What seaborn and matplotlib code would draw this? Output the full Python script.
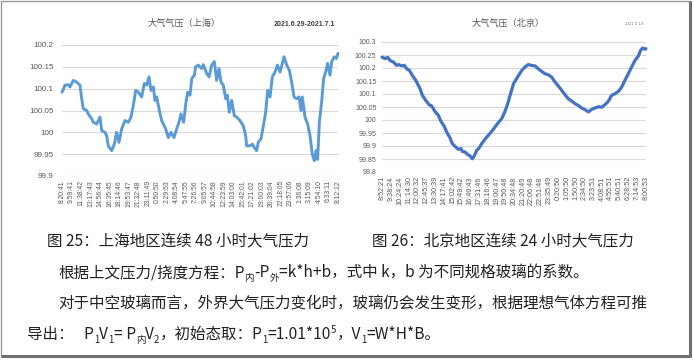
import matplotlib
matplotlib.use("Agg")
import matplotlib.pyplot as plt
import seaborn as sns
from matplotlib.lines import Line2D
from matplotlib.transforms import IdentityTransform

# ---- data ----
# Shanghai, 48 h (x = position in tick-label steps)
sh_labels = ["8:20:41", "9:59:41", "11:38:42", "13:17:43", "14:56:44", "16:35:45",
             "18:14:46", "19:53:47", "21:32:48", "23:11:49", "0:50:50", "2:29:53",
             "4:08:54", "5:47:55", "7:26:56", "9:05:57", "10:44:58", "12:23:59",
             "14:03:00", "15:42:01", "17:21:02", "19:00:03", "20:39:04", "22:18:05",
             "23:57:06", "1:36:08", "3:15:09", "4:54:10", "6:33:11", "8:12:12"]
sh_pos = [0.0, 0.32, 0.67, 0.84, 1.19, 1.54, 1.89, 2.07, 2.24, 2.59,
          2.77, 3.12, 3.29, 3.64, 3.99, 4.17, 4.52, 4.69, 4.87, 5.22,
          5.50, 5.74, 5.99, 6.27, 6.62, 6.97, 7.25, 7.50, 7.74, 8.02,
          8.37, 8.65, 8.90, 9.14, 9.35, 9.60, 9.77, 9.95, 10.19, 10.47,
          10.65, 10.89, 11.17, 11.45, 11.77, 12.05, 12.29, 12.50, 12.78, 13.03,
          13.20, 13.45, 13.63, 13.91, 14.04, 14.32, 14.68, 14.85, 15.20, 15.45,
          15.73, 16.01, 16.25, 16.50, 16.71, 16.95, 17.20, 17.37, 17.58, 17.83,
          18.11, 18.35, 18.70, 19.05, 19.30, 19.40, 19.75, 20.00, 20.21, 20.45,
          20.63, 20.91, 21.16, 21.40, 21.61, 21.86, 22.10, 22.38, 22.63, 22.91,
          23.15, 23.33, 23.61, 23.89, 24.13, 24.38, 24.66, 24.90, 25.11, 25.25,
          25.53, 25.81, 26.06, 26.30, 26.51, 26.69, 26.86, 27.04, 27.28, 27.49,
          27.70, 27.91, 28.16, 28.34, 28.62, 28.83, 29.0]
sh_vals = [100.092, 100.108, 100.109, 100.104, 100.119, 100.115, 100.108, 100.077, 100.054, 100.050,
           100.042, 100.031, 100.023, 100.019, 100.035, 100.004, 100.000, 99.992, 99.969, 99.958,
           99.973, 100.000, 99.977, 100.008, 100.027, 100.023, 100.035, 100.062, 100.096, 100.092,
           100.081, 100.112, 100.108, 100.127, 100.096, 100.104, 100.073, 100.081, 100.054, 100.027,
           100.019, 100.008, 99.988, 100.000, 99.988, 100.008, 100.023, 100.042, 100.023, 100.069,
           100.092, 100.085, 100.123, 100.131, 100.150, 100.154, 100.146, 100.155, 100.135, 100.127,
           100.154, 100.162, 100.119, 100.146, 100.115, 100.108, 100.077, 100.085, 100.046, 100.073,
           100.038, 100.035, 100.027, 100.015, 99.992, 99.969, 99.969, 99.973, 99.965, 99.958,
           99.978, 99.985, 100.015, 100.046, 100.096, 100.081, 100.127, 100.138, 100.154, 100.138,
           100.158, 100.173, 100.154, 100.142, 100.115, 100.081, 100.077, 100.081, 100.050, 100.081,
           100.035, 100.019, 99.992, 99.950, 99.935, 99.958, 99.938, 100.023, 100.069, 100.123,
           100.138, 100.158, 100.131, 100.162, 100.173, 100.169, 100.181]
sh_yticks = [99.9, 99.95, 100, 100.05, 100.1, 100.15, 100.2]
sh_ylabels = ["99.9", "99.95", "100", "100.05", "100.1", "100.15", "100.2"]

# Beijing, 24 h
bj_labels = ["8:52:21", "9:38:24", "10:24:24", "11:14:30", "12:00:32", "12:45:37",
             "13:30:39", "14:17:41", "15:02:42", "15:49:42", "16:40:43", "17:31:46",
             "18:16:46", "19:00:47", "19:50:48", "20:34:48", "21:20:49", "22:06:48",
             "22:51:48", "23:35:49", "0:20:50", "1:05:50", "1:50:50", "2:34:50",
             "3:23:51", "4:08:51", "4:55:51", "5:40:51", "6:28:52", "7:14:53", "8:00:53"]
bj_pos = [0.0, 0.34, 0.64, 0.91, 1.29, 1.67, 1.93, 2.24, 2.54, 2.80,
          3.11, 3.45, 3.83, 4.13, 4.32, 4.58, 4.96, 5.34, 5.64, 6.02,
          6.40, 6.70, 7.05, 7.35, 7.73, 7.99, 8.30, 8.67, 8.98, 9.13,
          9.43, 9.74, 10.0, 10.26, 10.49, 10.76, 11.02, 11.33, 11.70, 12.08,
          12.46, 12.84, 13.22, 13.60, 14.0, 14.3, 14.6, 14.95, 15.4, 15.87,
          16.25, 16.63, 17.01, 17.39, 17.76, 18.14, 18.52, 18.90, 19.28, 19.66,
          20.04, 20.42, 20.80, 21.17, 21.55, 21.93, 22.31, 22.69, 23.07, 23.45,
          23.83, 24.20, 24.58, 24.96, 25.34, 25.72, 26.10, 26.48, 26.86, 27.24,
          27.61, 27.99, 28.37, 28.75, 29.13, 29.39, 29.62, 29.89, 30.0]
bj_vals = [100.242, 100.236, 100.241, 100.229, 100.223, 100.210, 100.213, 100.208, 100.210, 100.197,
           100.191, 100.172, 100.153, 100.133, 100.121, 100.095, 100.076, 100.059, 100.054, 100.033,
           100.018, 99.995, 99.977, 99.954, 99.931, 99.909, 99.899, 99.887, 99.890, 99.879,
           99.877, 99.867, 99.862, 99.851, 99.862, 99.883, 99.892, 99.909, 99.926, 99.941,
           99.956, 99.973, 99.990, 100.005, 100.035, 100.065, 100.100, 100.140, 100.165, 100.190,
           100.204, 100.213, 100.210, 100.208, 100.197, 100.187, 100.178, 100.174, 100.165, 100.146,
           100.131, 100.114, 100.097, 100.082, 100.073, 100.063, 100.056, 100.046, 100.040, 100.031,
           100.041, 100.046, 100.051, 100.049, 100.059, 100.072, 100.095, 100.101, 100.110, 100.127,
           100.153, 100.178, 100.204, 100.229, 100.246, 100.268, 100.277, 100.272, 100.274]
bj_yticks = [99.8, 99.85, 99.9, 99.95, 100, 100.05, 100.1, 100.15, 100.2, 100.25, 100.3]
bj_ylabels = ["99.8", "99.85", "99.9", "99.95", "100", "100.05", "100.1", "100.15",
              "100.2", "100.25", "100.3"]

# ---- style ----
sns.set_theme(style="white")
plt.rcParams['font.family'] = ['Liberation Sans', 'Noto Sans CJK SC', 'DejaVu Sans']
CJK = ['Noto Sans CJK SC', 'DejaVu Sans']
W, H = 694, 361

fig = plt.figure(figsize=(6.94, 3.61), dpi=100)
fig.patch.set_facecolor('white')


def px_axes(x0, y_top, x1, y_bot):
    return fig.add_axes([x0 / W, 1 - y_bot / H, (x1 - x0) / W, (y_bot - y_top) / H])


def style_axes(ax, labels, yticks, ylabels, xfs, yfs, ypad):
    ax.set_xlim(0, len(labels) - 1)
    ax.set_ylim(yticks[0], yticks[-1])
    ax.set_xticks(range(len(labels)))
    ax.set_xticklabels(labels, rotation=90, fontsize=xfs, color='#595959')
    ax.set_yticks(yticks)
    ax.set_yticklabels(ylabels, fontsize=yfs, color='#595959')
    ax.tick_params(axis='x', length=0, pad=3)
    ax.tick_params(axis='y', length=0, pad=ypad)
    ax.grid(axis='y', color='#D9D9D9', lw=0.8)
    ax.set_axisbelow(True)
    for s in ax.spines.values():
        s.set_visible(False)
    ax.set_xlabel('')
    ax.set_ylabel('')


# left chart: Shanghai
ax1 = px_axes(62, 45, 338, 176)
sns.lineplot(x=sh_pos, y=sh_vals, ax=ax1, color='#5B9BD5', lw=2.1, sort=False,
             estimator=None, clip_on=False)
style_axes(ax1, sh_labels, sh_yticks, sh_ylabels, 4.9, 5.8, 6)
fig.text(184 / W, 1 - 23 / H, '大气气压（上海）', family=CJK, fontsize=6.6,
         color='#595959', ha='center', va='center')
fig.text(335 / W, 1 - 24 / H, '2021.6.29-2021.7.1', fontsize=5.0, fontweight='bold',
         color='#404040', ha='right', va='center')

# right chart: Beijing
ax2 = px_axes(382, 42, 646, 172)
sns.lineplot(x=bj_pos, y=bj_vals, ax=ax2, color='#4472C4', lw=2.3, sort=False,
             estimator=None, clip_on=False)
style_axes(ax2, bj_labels, bj_yticks, bj_ylabels, 5.2, 5.0, 4)
fig.text(508 / W, 1 - 23 / H, '大气气压（北京）', family=CJK, fontsize=6.6,
         color='#595959', ha='center', va='center')
fig.text(644 / W, 1 - 24 / H, '2021.5.19', fontsize=3.2,
         color='#808080', ha='right', va='center')

# ---- caption text below the charts ----
renderer = fig.canvas.get_renderer()
BODY = 11.2


def runs(x, base, parts, size=BODY):
    # parts: (text, kind) kind '' normal, 'sub' subscript, 'sup' superscript
    for txt, kind in parts:
        fs = size if kind == '' else size * 0.62
        dy = {'': 0, 'sub': -4, 'sup': 6}[kind]
        t = fig.text(x, H - base + dy, txt, family=CJK, fontsize=fs, color='#222222',
                     ha='left', va='baseline', transform=IdentityTransform())
        x += t.get_window_extent(renderer).width


runs(47, 246, [('图 25：上海地区连续 48 小时大气压力', '')])
runs(372, 246, [('图 26：北京地区连续 24 小时大气压力', '')])
runs(58, 277, [('根据上文压力/挠度方程：P', ''), ('内', 'sub'), ('-P', ''), ('外', 'sub'),
               ('=k*h+b，式中 k，b 为不同规格玻璃的系数。', '')])
runs(58, 308, [('对于中空玻璃而言，外界大气压力变化时，玻璃仍会发生变形，根据理想气体方程可推', '')])
runs(27, 339, [('导出：   P', ''), ('1', 'sub'), ('V', ''), ('1', 'sub'), ('= P', ''),
               ('内', 'sub'), ('V', ''), ('2', 'sub'), ('，初始态取：P', ''), ('1', 'sub'),
               ('=1.01*10', ''), ('5', 'sup'), ('，V', ''), ('1', 'sub'), ('=W*H*B。', '')])

# ---- page frame with shadow ----
idt = IdentityTransform()
fig.add_artist(Line2D([1, 689], [H - 1, H - 1], color='#9a9a9a', lw=1, transform=idt))
fig.add_artist(Line2D([1, 1], [H - 1, H - 355], color='#9a9a9a', lw=1, transform=idt))
fig.add_artist(Line2D([690, 690], [H - 2, H - 356], color='#6e6e6e', lw=2.2, transform=idt))
fig.add_artist(Line2D([2, 690], [H - 356, H - 356], color='#6e6e6e', lw=2.2, transform=idt))

fig.savefig('out.png', dpi=100, facecolor='white')
